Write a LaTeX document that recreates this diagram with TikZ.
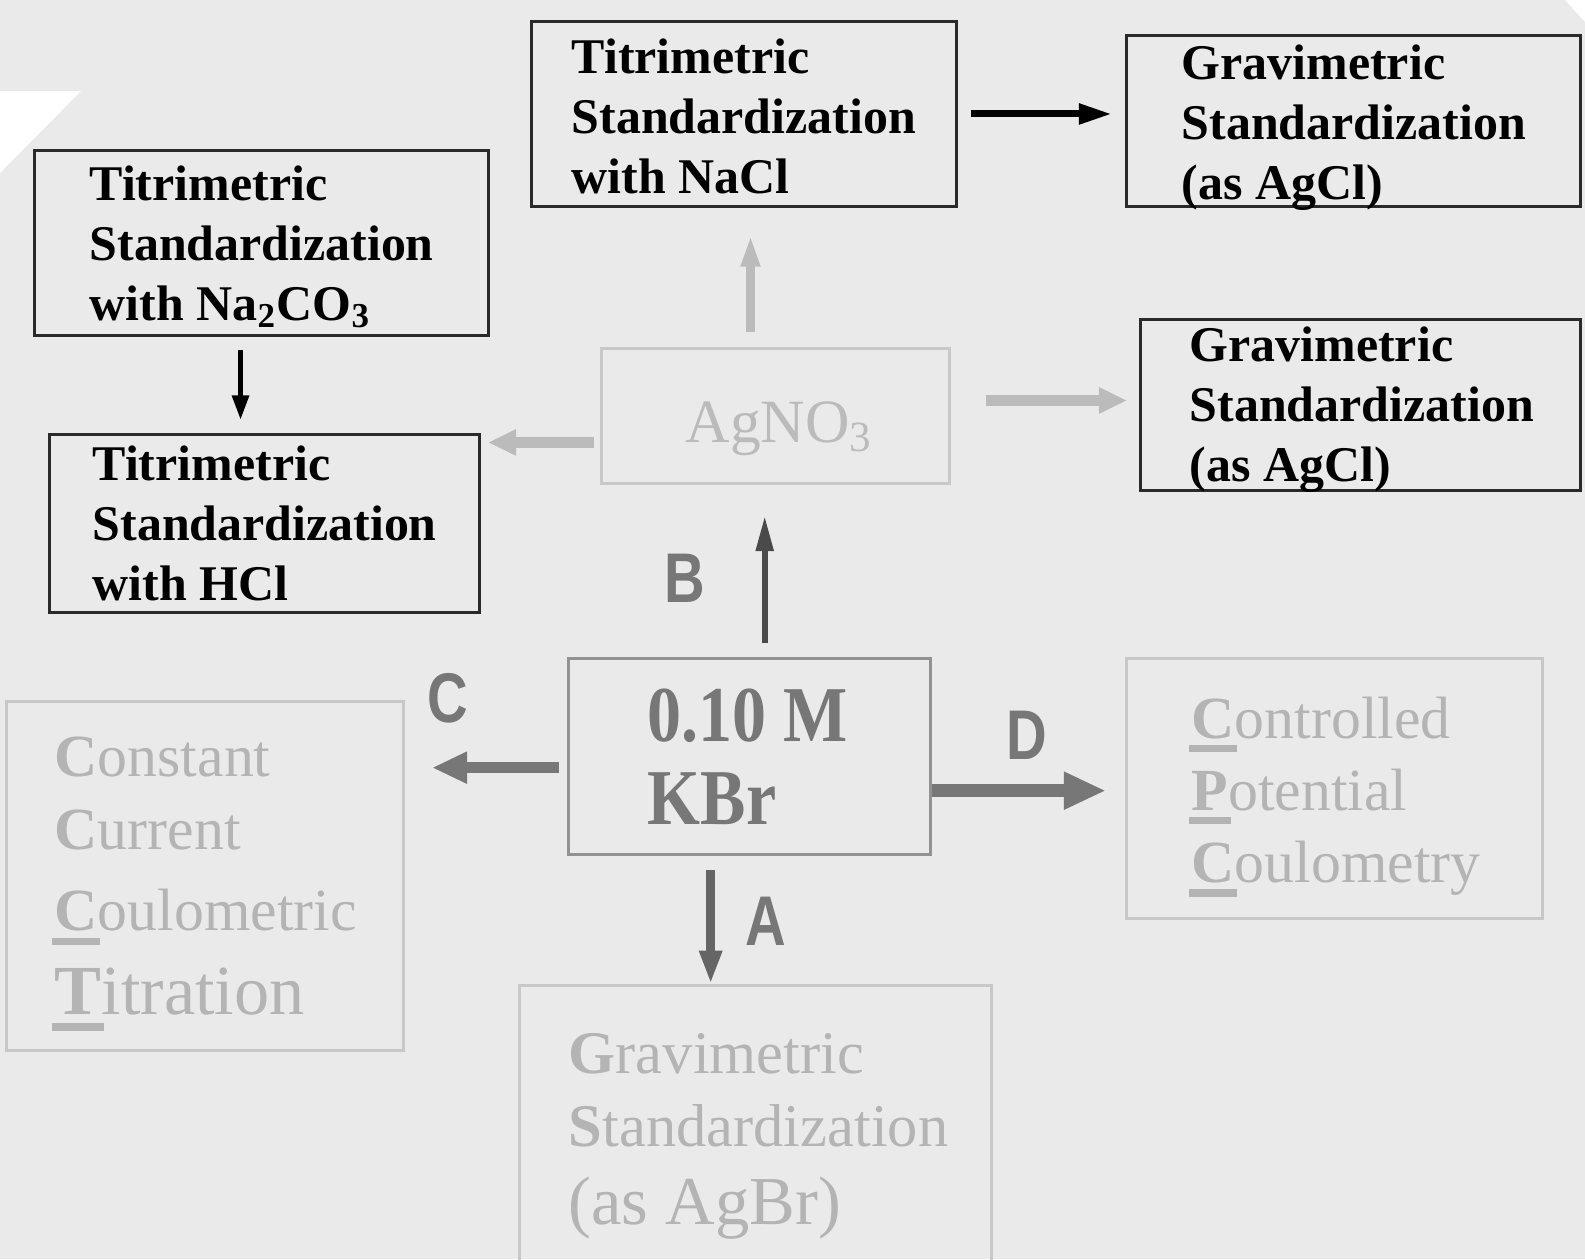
\documentclass[tikz,border=0pt]{standalone}
\usepackage{fontspec}
\setmainfont{Liberation Serif}
\newfontfamily\letterfont{Liberation Sans}[FakeStretch=0.8]
\newfontfamily\kbrfont{Liberation Serif}[FakeStretch=0.86]
\usetikzlibrary{positioning,arrows.meta,calc}

\definecolor{bgcol}{HTML}{EAEAEA}
\definecolor{darkline}{HTML}{2A2A2A}
\definecolor{fadeline}{HTML}{C8C8C8}
\definecolor{fadetxt}{HTML}{B4B4B4}
\definecolor{kbrcol}{HTML}{777777}
\definecolor{lightarr}{HTML}{BBBBBB}

\newcommand\linesof[1]{\begin{tabular}[t]{@{}l@{}}#1\end{tabular}}
\newcommand\ulfirst[1]{\setbox0\hbox{\bfseries #1}\hbox to 0pt{\kern-0.04em\rule[-0.24em]{\dimexpr\wd0+0.08em\relax}{0.12em}\hss}\box0}

\begin{document}
\begin{tikzpicture}[
    x=0.01cm, y=-0.01cm,
    box/.style={
        draw=darkline, line width=0.8pt, inner sep=0, anchor=north west
    },
    fadebox/.style={
        draw=fadeline, line width=0.8pt, inner sep=0, anchor=north west
    },
    boldtext/.style={
        anchor=base west, inner sep=0, text=black,
        font=\fontsize{14.2}{17.07}\selectfont\bfseries
    },
    fadetext/.style={
        anchor=base west, inner sep=0, text=fadetxt
    },
    letter/.style={
        inner sep=0, text=kbrcol, font=\letterfont\fontsize{20}{24}\selectfont\bfseries
    },
    blackarrow/.style={draw=black, line width=2pt, -{Triangle[length=9.4pt,width=5.5pt]}},
    thinarrow/.style={draw=black, line width=1.5pt, -{Triangle[length=7pt,width=4.6pt]}},
    lightarrow/.style={draw=lightarr, line width=3pt, -{Triangle[length=8pt,width=7pt]}},
    greyarrow/.style={draw=kbrcol, -{Triangle[length=10pt,width=8.5pt]}}
]

% Background
\clip (0,0) rectangle (1585,1259);
\fill[bgcol] (0,0) rectangle (1585,1259);
\fill[white] (0,91) -- (81,91) -- (0,173) -- cycle;
\fill[white] (1565,0) -- (1585,0) -- (1585,22) -- cycle;

% Top row
\node[box, minimum width=4.25cm, minimum height=1.85cm] (nacl) at (530,20) {};
\node[boldtext] (nacltxt) at (571,73) {\linesof{Titrimetric\\Standardization\\with NaCl}};
\node[box, minimum width=4.54cm, minimum height=1.71cm] (gravtop) at (1125,34) {};
\node[boldtext] (gravtoptxt) at (1181,79) {\linesof{Gravimetric\\Standardization\\(as AgCl)}};
\node[box, minimum width=4.54cm, minimum height=1.85cm] (na2co3) at (33,149) {};
\node[boldtext] (na2co3txt) at (89,200) {\linesof{Titrimetric\\Standardization\\with Na\textsubscript{2}CO\textsubscript{3}}};

% Middle row
\node[fadebox, minimum width=3.48cm, minimum height=1.35cm] (agno3) at (600,347) {};
\node[anchor=base west, inner sep=0, text=lightarr, font=\fontsize{17.5}{21}\selectfont] (agno3txt) at (685,442) {AgNO\textsubscript{3}};
\node[box, minimum width=4.40cm, minimum height=1.71cm] (gravmid) at (1139,318) {};
\node[boldtext] (gravmidtxt) at (1189,361) {\linesof{Gravimetric\\Standardization\\(as AgCl)}};
\node[box, minimum width=4.30cm, minimum height=1.78cm] (hcl) at (48,433) {};
\node[boldtext] (hcltxt) at (92,480) {\linesof{Titrimetric\\Standardization\\with HCl}};

% KBr and its four routes
\node[draw=kbrcol!80, line width=0.9pt, inner sep=0, anchor=north west,
      minimum width=3.62cm, minimum height=1.96cm] (kbr) at (567,657) {};
\node[anchor=base west, inner sep=0, text=kbrcol, font=\kbrfont\fontsize{22.5}{23.6}\selectfont\bfseries]
    (kbrtxt) at (647,741) {\linesof{0.10 M\\KBr}};

\node[fadebox, minimum width=3.97cm, minimum height=3.49cm] (ccct) at (5,700) {};
\node[fadetext, font=\fontsize{17}{20.8}\selectfont] (ccctxt) at (54,776)
    {\linesof{\textbf{C}onstant\\\textbf{C}urrent\\[2.3pt]\ulfirst{C}oulometric\\[3.1pt]{\fontsize{20}{22}\selectfont\ulfirst{T}itration}}};
\node[fadebox, minimum width=4.16cm, minimum height=2.60cm] (cpc) at (1125,657) {};
\node[fadetext, font=\fontsize{17}{20.5}\selectfont] (cpctxt) at (1191,738)
    {\linesof{\ulfirst{C}ontrolled\\\ulfirst{P}otential\\\ulfirst{C}oulometry}};
\node[fadebox, minimum width=4.72cm, minimum height=3.2cm] (agbr) at (518,984) {};
\node[fadetext, font=\fontsize{17.2}{21}\selectfont] (agbrtxt) at (568,1073)
    {\linesof{\textbf{G}ravimetric\\\textbf{S}tandardization\\[1.1pt]{\fontsize{19.5}{21}\selectfont(as AgBr)}}};

% Route letters
\node[letter] (labB) at (685,578) {B};
\node[letter] (labC) at (448,698) {C};
\node[letter] (labD) at (1027,735) {D};
\node[letter] (labA) at (766,921) {A};

% Arrows between the titration boxes
\draw[blackarrow, shorten <=0.13cm, shorten >=0.13cm] (nacl.east) -- (nacl.east -| gravtop.west);
\draw[thinarrow, shorten <=0.13cm, shorten >=0.13cm]
    ([xshift=-0.21cm]na2co3.south) -- ([xshift=-0.21cm]na2co3.south |- hcl.north);

% Arrows out of AgNO3
\draw[lightarrow, line width=2.3pt, -{Triangle[length=9pt,width=5pt]}, shorten <=0.15cm, shorten >=0.27cm]
    ([xshift=-0.25cm]agno3.north) -- ([xshift=-0.25cm]agno3.north |- nacl.south);
\draw[lightarrow, shorten <=0.35cm, shorten >=0.12cm]
    ([yshift=0.155cm]agno3.east) -- ([yshift=0.155cm]agno3.east -| gravmid.west);
\draw[lightarrow, shorten <=0.06cm, shorten >=0.07cm]
    ([yshift=-0.265cm]agno3.west) -- ([yshift=-0.265cm]agno3.west -| hcl.east);

% Arrows out of KBr
\draw[greyarrow, draw=darkline!85, line width=1.6pt, -{Triangle[length=10pt,width=4.8pt]}, shorten <=0.14cm, shorten >=0.31cm]
    ([xshift=0.15cm]kbr.north) -- ([xshift=0.15cm]kbr.north |- agno3.south);
\draw[greyarrow, line width=3.3pt, shorten <=0.08cm, shorten >=0.27cm]
    ([yshift=-0.11cm]kbr.west) -- ([yshift=-0.11cm]kbr.west -| ccct.east);
\draw[greyarrow, line width=3.8pt, -{Triangle[length=12pt,width=10pt]}, shorten >=0.19cm]
    ([yshift=-0.34cm]kbr.east) -- ([yshift=-0.34cm]kbr.east -| cpc.west);
\draw[greyarrow, draw=kbrcol!85!black, line width=2.6pt, -{Triangle[length=9.5pt,width=6pt]}, shorten <=0.14cm]
    ([xshift=-0.39cm]kbr.south) -- ([xshift=-0.39cm]kbr.south |- agbr.north);

\end{tikzpicture}
\end{document}
